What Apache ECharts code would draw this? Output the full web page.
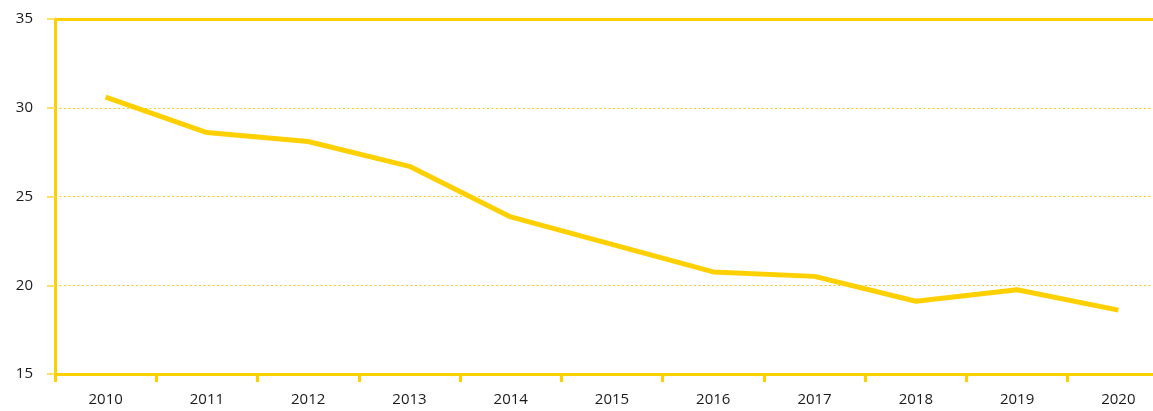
<!DOCTYPE html>
<html><head><meta charset="utf-8">
<script src="https://cdn.jsdelivr.net/npm/echarts@6/dist/echarts.min.js"></script>
<style>html,body{margin:0;padding:0;background:#fff;overflow:hidden;width:1153px;height:411px}#c{width:1170px;height:411px}</style>
</head><body><div id="c"></div>
<script>
const categories = ['2010','2011','2012','2013','2014','2015','2016','2017','2018','2019','2020'];
const values = [30.6, 28.6, 28.1, 26.7, 23.85, 22.3, 20.75, 20.5, 19.1, 19.75, 18.6];
const yTicks = {min: 15, max: 35, interval: 5};

const chart = echarts.init(document.getElementById('c'));
const yellow = '#FFD000';
chart.setOption({
  animation: false,
  grid: {left: 55, right: 1, top: 19, bottom: 37},
  xAxis: [{
    type: 'category', data: categories, boundaryGap: true,
    axisLine: {lineStyle: {color: yellow, width: 3}},
    axisTick: {show: true, length: 8, lineStyle: {color: yellow, width: 3}},
    axisLabel: {color: '#1a1a1a', fontFamily: 'Open Sans', fontSize: 15, margin: 18}
  }, {
    type: 'category', data: categories, position: 'top',
    axisLine: {lineStyle: {color: yellow, width: 3}},
    axisTick: {show: false}, axisLabel: {show: false}
  }],
  yAxis: {
    type: 'value', min: yTicks.min, max: yTicks.max, interval: yTicks.interval,
    axisLine: {show: true, lineStyle: {color: yellow, width: 3}},
    axisTick: {show: true, length: 8, lineStyle: {color: '#FFE066', width: 2}},
    axisLabel: {color: '#1a1a1a', fontFamily: 'Open Sans', fontSize: 15, margin: 22},
    splitLine: {show: true, lineStyle: {color: '#FFC820', width: 1, type: [2, 2.5]}}
  },
  series: [{
    type: 'line', data: values, symbol: 'none',
    lineStyle: {color: yellow, width: 5}
  }]
});
</script></body></html>
